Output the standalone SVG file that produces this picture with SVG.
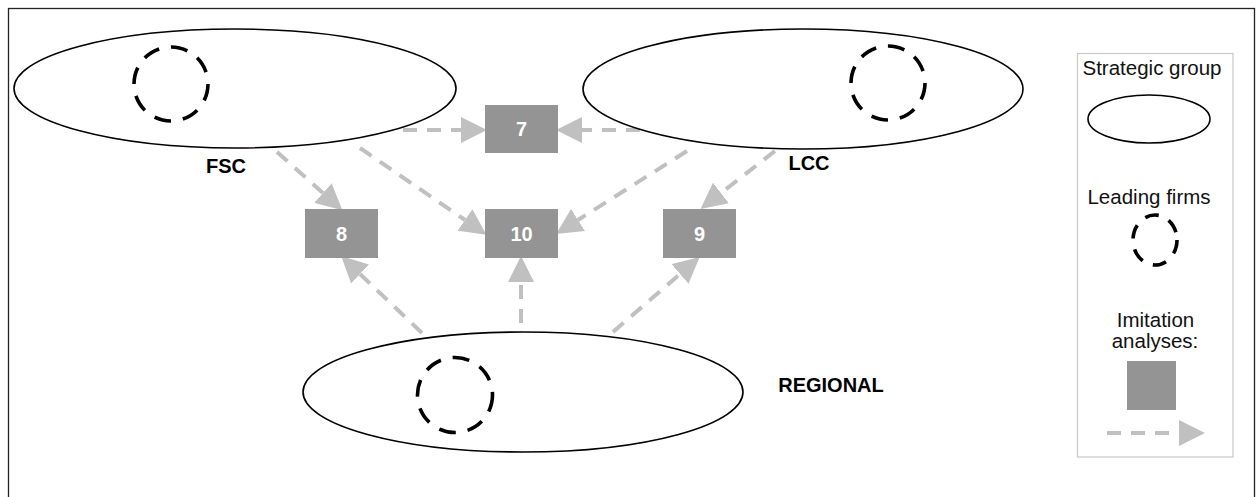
<svg xmlns="http://www.w3.org/2000/svg" width="1258" height="497" viewBox="0 0 1258 497">
<style>
.grp{fill:#fff;stroke:#000;stroke-width:1.6}
.lead{fill:none;stroke:#000;stroke-width:3.6;stroke-dasharray:17 12}
.box{fill:#949494}
.num{font-family:"Liberation Sans",Arial,sans-serif;font-weight:bold;font-size:20px;fill:#fff;text-anchor:middle}
.lbl{font-family:"Liberation Sans",Arial,sans-serif;font-weight:bold;font-size:20px;fill:#000;text-anchor:middle}
.leg{font-family:"Liberation Sans",Arial,sans-serif;font-size:20.5px;fill:#111;text-anchor:middle}
.arr{fill:none;stroke:#c0c0c0;stroke-width:4;stroke-dasharray:14 10;marker-end:url(#ah)}
</style>
<defs>
<marker id="ah" markerUnits="userSpaceOnUse" markerWidth="26" markerHeight="26" refX="0" refY="12" orient="auto" viewBox="0 0 24 24">
<path d="M0,0 L24,12 L0,24 Z" fill="#c0c0c0"/>
</marker>
</defs>
<rect x="0" y="0" width="1258" height="497" fill="#fff"/>
<rect id="frame" x="8.5" y="8.5" width="1246" height="500" fill="none" stroke="#222" stroke-width="1.3"/>

<g id="connectors">
<line class="arr" x1="403" y1="130" x2="461" y2="130"/>
<line class="arr" x1="640" y1="130" x2="582" y2="130"/>
<line class="arr" x1="277" y1="152" x2="323" y2="193"/>
<line class="arr" x1="360" y1="148" x2="465" y2="220"/>
<line class="arr" x1="687" y1="151" x2="578" y2="220"/>
<line class="arr" x1="775" y1="151" x2="721" y2="193"/>
<line class="arr" x1="422" y1="333" x2="360" y2="274"/>
<line class="arr" x1="521" y1="323" x2="521" y2="282"/>
<line class="arr" x1="613" y1="332" x2="680" y2="274"/>
</g>

<g id="fsc">
<ellipse class="grp" cx="235" cy="88.5" rx="221" ry="59.5"/>
<circle class="lead" cx="171" cy="84" r="37"/>
<text class="lbl" x="226" y="173">FSC</text>
</g>
<g id="lcc">
<ellipse class="grp" cx="803" cy="89" rx="220" ry="60"/>
<circle class="lead" cx="888" cy="83" r="37"/>
<text class="lbl" x="809" y="170">LCC</text>
</g>
<g id="regional">
<ellipse class="grp" cx="523" cy="392" rx="220" ry="60"/>
<circle class="lead" cx="455" cy="395" r="37.5"/>
<text class="lbl" x="831" y="392">REGIONAL</text>
</g>

<g id="box7"><rect class="box" x="485" y="105" width="73" height="48"/><text class="num" x="521.5" y="136">7</text></g>
<g id="box8"><rect class="box" x="305" y="209" width="73" height="49"/><text class="num" x="341.5" y="240.5">8</text></g>
<g id="box10"><rect class="box" x="485" y="209" width="73" height="49"/><text class="num" x="521.5" y="240.5">10</text></g>
<g id="box9"><rect class="box" x="663" y="209" width="73" height="49"/><text class="num" x="699.5" y="240.5">9</text></g>

<g id="legend">
<rect x="1077.5" y="53.5" width="155.5" height="403.5" fill="#fff" stroke="#c8c8c8" stroke-width="1.2"/>
<text class="leg" x="1152" y="75">Strategic group</text>
<ellipse class="grp" cx="1149" cy="119" rx="61" ry="24"/>
<text class="leg" x="1149" y="204">Leading firms</text>
<ellipse cx="1155" cy="240" rx="22" ry="25" fill="none" stroke="#000" stroke-width="3.6" stroke-dasharray="14 11"/>
<text class="leg" x="1155.5" y="327">Imitation</text>
<text class="leg" x="1155" y="348">analyses:</text>
<rect class="box" x="1127" y="361" width="49" height="49"/>
<line class="arr" x1="1107" y1="433" x2="1179" y2="433"/>
</g>
</svg>
